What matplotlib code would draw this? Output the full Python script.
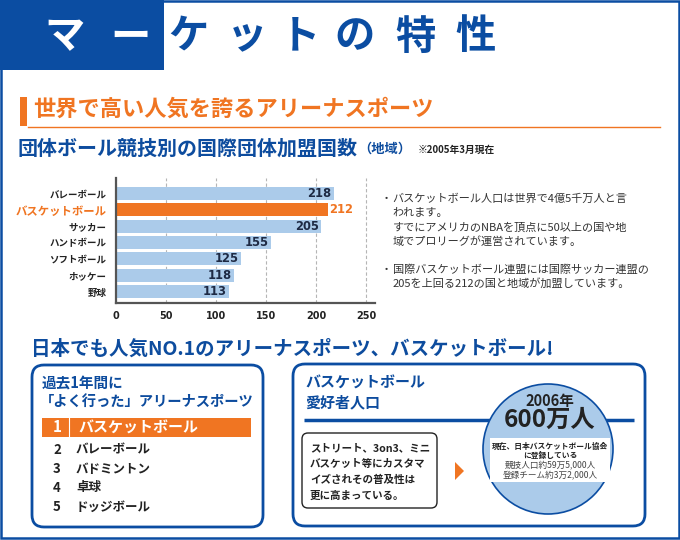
import matplotlib
matplotlib.use('Agg')
import matplotlib.pyplot as plt
from matplotlib.patches import Rectangle, FancyBboxPatch, Circle, Polygon

plt.rcParams['font.family'] = ['Noto Sans CJK JP', 'DejaVu Sans']

BLUE = '#0b4da2'
NAVY = '#0d4c9e'
ORANGE = '#f07522'
LIGHT = '#abcbea'
DARK = '#222222'

# ---------------- data ----------------
title_chars = ['マ', 'ー', 'ケ', 'ッ', 'ト', 'の', '特', '性']
sports = ['バレーボール', 'バスケットボール', 'サッカー', 'ハンドボール',
          'ソフトボール', 'ホッケー', '野球']
members = [218, 212, 205, 155, 125, 118, 113]
highlight = 'バスケットボール'
xticks = [0, 50, 100, 150, 200, 250]

notes = [
    ('・', 'バスケットボール人口は世界で4億5千万人と言'),
    ('', 'われます。'),
    ('', 'すでにアメリカのNBAを頂点に50以上の国や地'),
    ('', '域でプロリーグが運営されています。'),
    ('・', '国際バスケットボール連盟には国際サッカー連盟の'),
    ('', '205を上回る212の国と地域が加盟しています。'),
]
ranks = ['1', '2', '3', '4', '5']
ranking = ['バスケットボール', 'バレーボール', 'バドミントン', '卓球', 'ドッジボール']
box_text = ['ストリート、3on3、ミニ', 'バスケット等にカスタマ',
            'イズされその普及性は', '更に高まっている。']
circle_year = '2006年'
circle_value = '600万人'
circle_notes = ['現在、日本バスケットボール協会', 'に登録している',
                '競技人口約59万5,000人', '登録チーム約3万2,000人']

# ---------------- figure ----------------
fig = plt.figure(figsize=(6.8, 5.4), dpi=100)
bg = fig.add_axes([0, 0, 1, 1])
bg.set_xlim(0, 680)
bg.set_ylim(540, 0)
bg.axis('off')

# outer frame
bg.add_patch(Rectangle((1, 1), 677.5, 537, fill=False, ec=BLUE, lw=1.8))
# title block
bg.add_patch(Rectangle((0, 0), 164, 70, fc=BLUE, ec='none'))
title_x = [65, 130, 188, 247, 300, 355, 415, 475]
for i, (ch, x) in enumerate(zip(title_chars, title_x)):
    bg.text(x, 37, ch, ha='center', va='center', fontsize=29, fontweight='bold',
            color='white' if i < 2 else BLUE)

# section heading
bg.add_patch(Rectangle((20, 97), 7, 29, fc=ORANGE, ec='none'))
bg.plot([28, 660], [126.5, 126.5], color=ORANGE, lw=1.0)
bg.text(33, 109, '世界で高い人気を誇るアリーナスポーツ', ha='left', va='center',
        fontsize=16, fontweight='bold', color=ORANGE)
bg.text(18, 148, '団体ボール競技別の国際団体加盟国数', ha='left', va='center',
        fontsize=14.4, fontweight='bold', color=NAVY)
bg.text(358, 149, '（地域）', ha='left', va='center', fontsize=9.5,
        fontweight='bold', color=NAVY)
bg.text(418, 150, '※2005年3月現在', ha='left', va='center', fontsize=7,
        fontweight='bold', color=DARK)

# ---------------- bar chart ----------------
ax = fig.add_axes([116 / 680, (540 - 303) / 540, 259 / 680, 125 / 540])
ypos = list(range(len(sports)))
colors = [ORANGE if s == highlight else LIGHT for s in sports]
ax.barh(ypos, members, height=0.8, color=colors, zorder=2)
ax.set_xlim(0, 259)
ax.set_ylim(6.70, -0.95)
ax.set_axisbelow(True)
ax.xaxis.grid(True, ls=(0, (3, 2)), color='#b5b5b5', lw=0.8)
ax.set_xticks(xticks)
ax.set_xticklabels([str(t) for t in xticks], family='DejaVu Sans',
                   fontweight='bold', fontsize=7, color=DARK)
ax.set_yticks(ypos)
ax.set_yticklabels(sports)
for lab, s in zip(ax.get_yticklabels(), sports):
    if s == highlight:
        lab.set_color(ORANGE)
        lab.set_fontsize(8.2)
    else:
        lab.set_color(DARK)
        lab.set_fontsize(6.8)
    lab.set_fontweight('bold')
ax.tick_params(axis='y', length=0, pad=7)
ax.tick_params(axis='x', length=0, pad=6)
for sp in ['top', 'right']:
    ax.spines[sp].set_visible(False)
for sp in ['left', 'bottom']:
    ax.spines[sp].set_color('#555555')
    ax.spines[sp].set_linewidth(1.6)
for y, v, s in zip(ypos, members, sports):
    if s == highlight:
        ax.text(v + 1.5, y, str(v), ha='left', va='center', fontsize=8.3,
                family='DejaVu Sans', fontweight='bold', color=ORANGE, zorder=3)
    else:
        ax.text(v - 2.5, y, str(v), ha='right', va='center', fontsize=8.3,
                family='DejaVu Sans', fontweight='bold', color='#1e2a44', zorder=3)

# notes on the right
note_y = [199, 213, 227.5, 241.5, 269.5, 283.5]
for (b, t), y in zip(notes, note_y):
    if b:
        bg.text(391.5, y, b, ha='right', va='center', fontsize=8, color='#333333')
    bg.text(392.5, y, t, ha='left', va='center', fontsize=8, color='#333333')

# ---------------- lower section ----------------
bg.text(31, 349, '日本でも人気NO.1のアリーナスポーツ、バスケットボール!', ha='left',
        va='center', fontsize=14, fontweight='bold', color=NAVY)

# left box
bg.add_patch(FancyBboxPatch((32, 365), 231, 162,
                            boxstyle='round,pad=0,rounding_size=12',
                            fc='white', ec=BLUE, lw=2))
bg.text(42, 384, '過去1年間に', ha='left', va='center', fontsize=10.5,
        fontweight='bold', color=NAVY)
bg.text(40, 402, '「よく行った」アリーナスポーツ', ha='left', va='center',
        fontsize=10.3, fontweight='bold', color=NAVY)
bg.add_patch(Rectangle((42, 418), 209, 19, fc=ORANGE, ec='none'))
bg.plot([69, 69], [418, 437], color='white', lw=0.8)
row_y = [427.5, 450, 469, 488, 507]
for i, (r, name, y) in enumerate(zip(ranks, ranking, row_y)):
    if i == 0:
        bg.text(57, y, r, ha='center', va='center', fontsize=11,
                fontweight='bold', color='white')
        bg.text(78, y, name, ha='left', va='center', fontsize=10.8,
                fontweight='bold', color='white')
    else:
        bg.text(57, y, r, ha='center', va='center', fontsize=9.5,
                fontweight='bold', color=DARK)
        bg.text(76, y, name, ha='left', va='center', fontsize=9,
                fontweight='bold', color=DARK)

# right box
bg.add_patch(FancyBboxPatch((293, 364), 352, 162,
                            boxstyle='round,pad=0,rounding_size=12',
                            fc='white', ec=BLUE, lw=2))
bg.text(305, 383, 'バスケットボール', ha='left', va='center', fontsize=10.8,
        fontweight='bold', color=NAVY)
bg.text(305, 402, '愛好者人口', ha='left', va='center', fontsize=10.8,
        fontweight='bold', color=NAVY)
bg.plot([304, 634], [420, 420], color=BLUE, lw=2.5, solid_capstyle='butt')
bg.add_patch(Circle((548, 449), 65, fc=LIGHT, ec=BLUE, lw=1.2, zorder=3))
bg.text(550, 401, circle_year, ha='center', va='center', fontsize=10.5,
        fontweight='bold', color=DARK, zorder=4)
bg.text(550, 420, circle_value, ha='center', va='center', fontsize=17.5,
        fontweight='bold', color=DARK, zorder=4)
bg.add_patch(Rectangle((490, 438), 120, 44, fc='white', ec='none', zorder=4))
cn_y = [446, 455.5, 465.5, 475.5]
for i, (t, y) in enumerate(zip(circle_notes, cn_y)):
    bg.text(550, y, t, ha='center', va='center',
            fontsize=5.6 if i < 2 else 6.2,
            fontweight='bold' if i < 2 else 'normal',
            color=DARK if i < 2 else '#444444', zorder=5)

bg.add_patch(FancyBboxPatch((302, 433), 135, 75,
                            boxstyle='round,pad=0,rounding_size=6',
                            fc='white', ec=DARK, lw=1.0))
for t, y in zip(box_text, [448, 464, 480, 496]):
    bg.text(310, y, t, ha='left', va='center', fontsize=7.6,
            fontweight='bold', color=DARK)
bg.add_patch(Polygon([[455, 462], [464, 471], [455, 480]], closed=True,
                     fc=ORANGE, ec='none'))

fig.savefig('out.png', dpi=100)
